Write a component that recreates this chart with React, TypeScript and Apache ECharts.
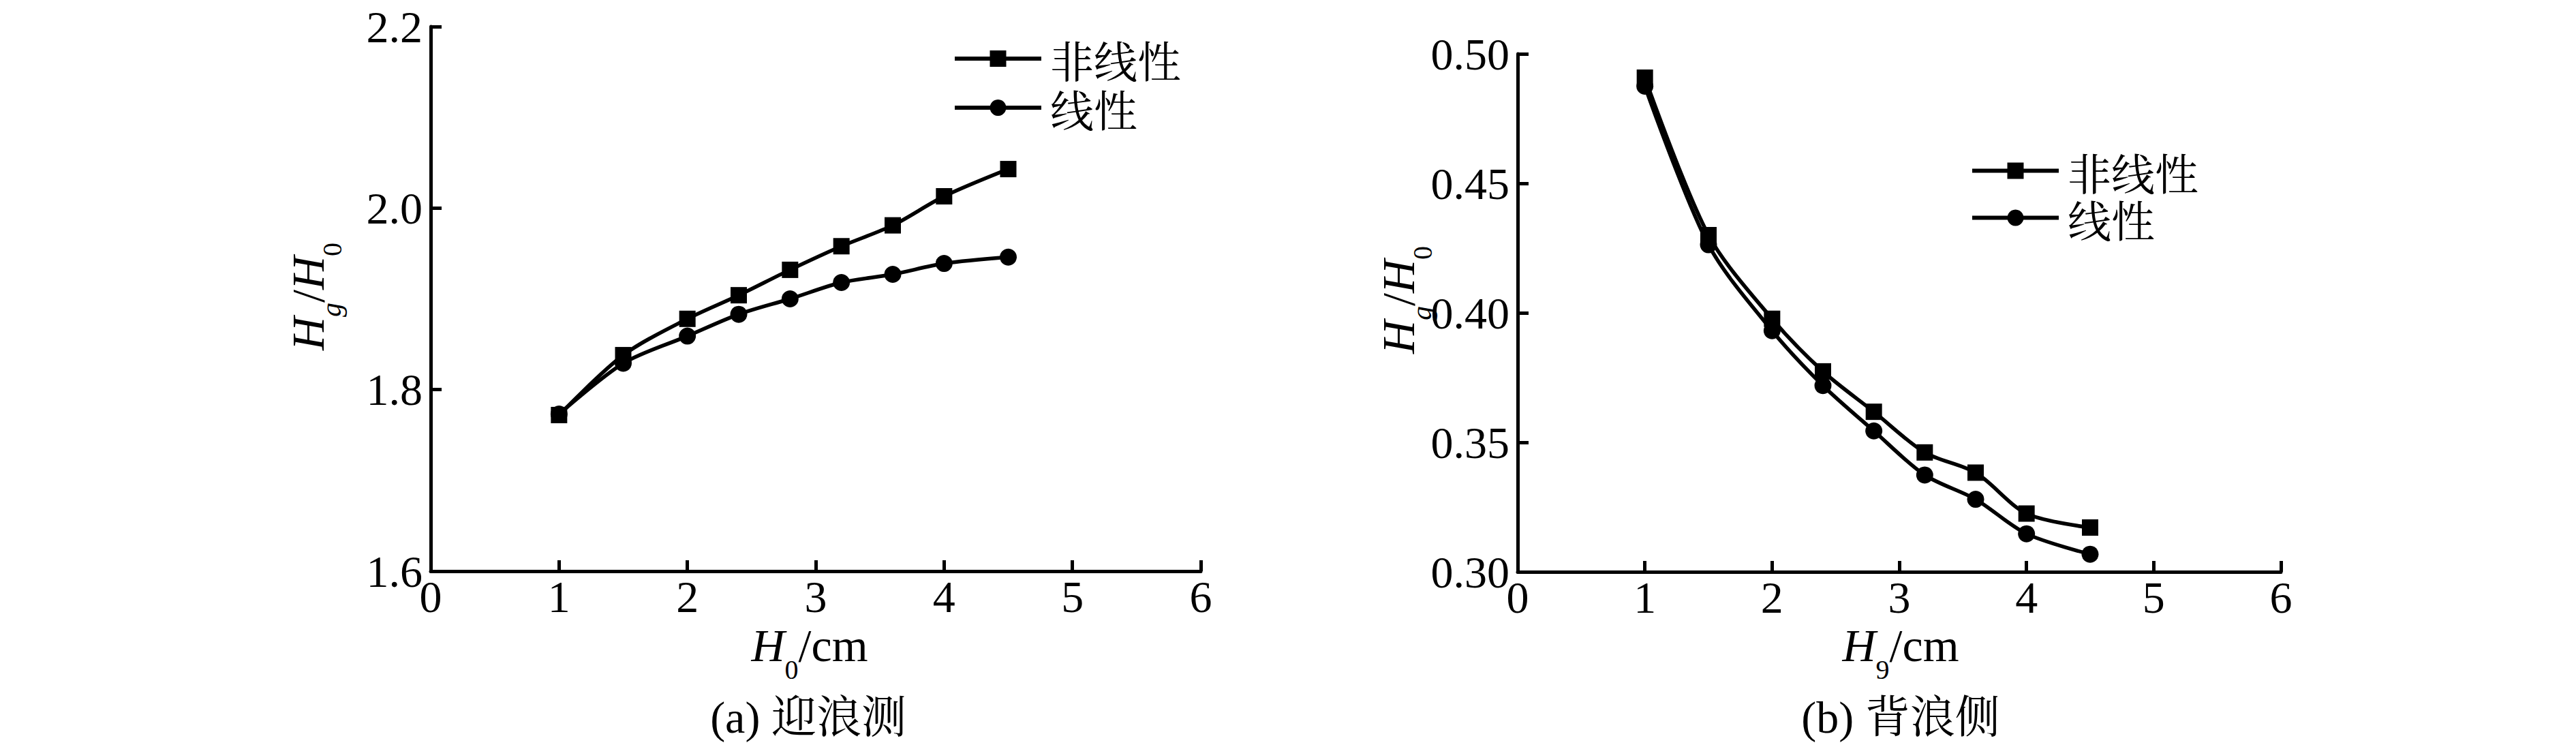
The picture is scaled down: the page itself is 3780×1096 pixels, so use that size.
import React, { useEffect, useRef } from 'react';
import * as echarts from 'echarts';

// ---- data ----
const waveHeights = [1, 1.5, 2, 2.4, 2.8, 3.2, 3.6, 4, 4.5];
const frontNonlinear = [1.772, 1.838, 1.878, 1.904, 1.932, 1.958, 1.981, 2.013, 2.043];
const frontLinear = [1.773, 1.829, 1.859, 1.883, 1.9, 1.918, 1.927, 1.939, 1.946];
const backNonlinear = [0.4908, 0.43, 0.3977, 0.3774, 0.3618, 0.3461, 0.3383, 0.3225, 0.3171];
const backLinear = [0.4875, 0.4263, 0.3931, 0.3719, 0.3544, 0.3374, 0.328, 0.3147, 0.3068];
const seriesNames = ['非线性', '线性'];
const captions = ['(a) 迎浪测', '(b) 背浪侧'];
const xSubscripts = ['0', '9'];
const frontYRange = { min: 1.6, max: 2.2, interval: 0.2, digits: 1 };
const backYRange = { min: 0.3, max: 0.5, interval: 0.05, digits: 2 };
const xRange = { min: 0, max: 6, interval: 1 };

const serif = '"Liberation Serif", "Times New Roman", "Noto Serif CJK SC", "Noto Sans CJK SC", serif';
const cjk = '"Noto Serif CJK SC", "Noto Sans CJK SC", serif';

const nameRich = {
  i: { fontFamily: serif, fontStyle: 'italic', fontSize: 68, lineHeight: 110, fill: '#000' },
  n: { fontFamily: serif, fontSize: 68, lineHeight: 110, fill: '#000' },
  si: { fontFamily: serif, fontStyle: 'italic', fontSize: 42, lineHeight: 40, verticalAlign: 'bottom', fill: '#000' },
  s: { fontFamily: serif, fontSize: 40, lineHeight: 40, verticalAlign: 'bottom', fill: '#000' },
};

function pairs(ys: number[]) {
  return waveHeights.map((x, i) => [x, ys[i]]);
}

function xAxisCfg(gridIndex: number) {
  return {
    type: 'value',
    gridIndex,
    min: xRange.min,
    max: xRange.max,
    interval: xRange.interval,
    axisLine: { show: true, onZero: false, lineStyle: { color: '#000', width: 5 } },
    axisTick: { show: true, inside: true, length: 16, lineStyle: { color: '#000', width: 5 } },
    axisLabel: { color: '#000', fontSize: 66, fontFamily: serif, margin: 4 },
    splitLine: { show: false },
  };
}

function yAxisCfg(gridIndex: number, r: { min: number; max: number; interval: number; digits: number }) {
  return {
    type: 'value',
    gridIndex,
    min: r.min,
    max: r.max,
    interval: r.interval,
    axisLine: { show: true, onZero: false, lineStyle: { color: '#000', width: 5 } },
    axisTick: { show: true, inside: true, length: 16, lineStyle: { color: '#000', width: 5 } },
    axisLabel: {
      color: '#000',
      fontSize: 66,
      fontFamily: serif,
      margin: 12,
      padding: [0, 0, 8, 0],
      formatter: (v: number) => v.toFixed(r.digits),
    },
    splitLine: { show: false },
  };
}

function lineSeries(name: string, idx: number, ys: number[], symbol: string, size: number) {
  return {
    type: 'line',
    name,
    xAxisIndex: idx,
    yAxisIndex: idx,
    data: pairs(ys),
    symbol,
    symbolSize: size,
    smooth: 0.3,
    lineStyle: { color: '#000', width: 5.5 },
    itemStyle: { color: '#000' },
    emphasis: { disabled: true },
  };
}

function legendCfg(left: number, top: number, lineHeight: number) {
  return {
    data: seriesNames,
    orient: 'vertical',
    left,
    top,
    itemWidth: 127,
    itemHeight: 30,
    itemGap: 0,
    selectedMode: false,
    lineStyle: { color: '#000', width: 6 },
    itemStyle: { color: '#000' },
    textStyle: { color: '#000', fontSize: 64, fontFamily: cjk, lineHeight, padding: [0, 0, 8, 8] },
  };
}

function xName(cx: number, sub: string) {
  return {
    type: 'text',
    x: cx,
    y: 947,
    style: {
      text: `{i|H}{s|${sub}}{n|/cm}`,
      rich: nameRich,
      align: 'center',
      verticalAlign: 'middle',
    },
  };
}

function yName(cx: number, cy: number) {
  return {
    type: 'text',
    x: cx,
    y: cy,
    rotation: Math.PI / 2,
    style: {
      text: '{i|H}{si|g}{n|/}{i|H}{s|0}',
      rich: nameRich,
      align: 'center',
      verticalAlign: 'middle',
    },
  };
}

function caption(cx: number, text: string) {
  return {
    type: 'text',
    x: cx,
    y: 1052,
    style: {
      text,
      font: `66px ${serif}`,
      fill: '#000',
      align: 'center',
      verticalAlign: 'middle',
    },
  };
}

export default function App() {
  const ref = useRef<HTMLDivElement>(null);
  useEffect(() => {
    document.body.style.margin = '0';
    const chart = echarts.init(ref.current!, undefined, { renderer: 'svg' });
    chart.setOption({
      animation: false,
      backgroundColor: '#fff',
      grid: [
        { left: 632, top: 39, width: 1130, height: 799, containLabel: false },
        { left: 2227, top: 79, width: 1120, height: 760, containLabel: false },
      ],
      xAxis: [xAxisCfg(0), xAxisCfg(1)],
      yAxis: [yAxisCfg(0, frontYRange), yAxisCfg(1, backYRange)],
      legend: [legendCfg(1393, 45, 64), legendCfg(2886, 211, 61)],
      series: [
        lineSeries(seriesNames[0], 0, frontNonlinear, 'rect', 24),
        lineSeries(seriesNames[1], 0, frontLinear, 'circle', 25),
        lineSeries(seriesNames[0], 1, backNonlinear, 'rect', 24),
        lineSeries(seriesNames[1], 1, backLinear, 'circle', 25),
      ],
      graphic: [
        xName(1188, xSubscripts[0]),
        xName(2789, xSubscripts[1]),
        yName(452, 435),
        yName(2052, 440),
        caption(1186, captions[0]),
        caption(2789, captions[1]),
      ],
    });
    return () => chart.dispose();
  }, []);
  return <div ref={ref} style={{ width: 3780, height: 1096 }} />;
}
